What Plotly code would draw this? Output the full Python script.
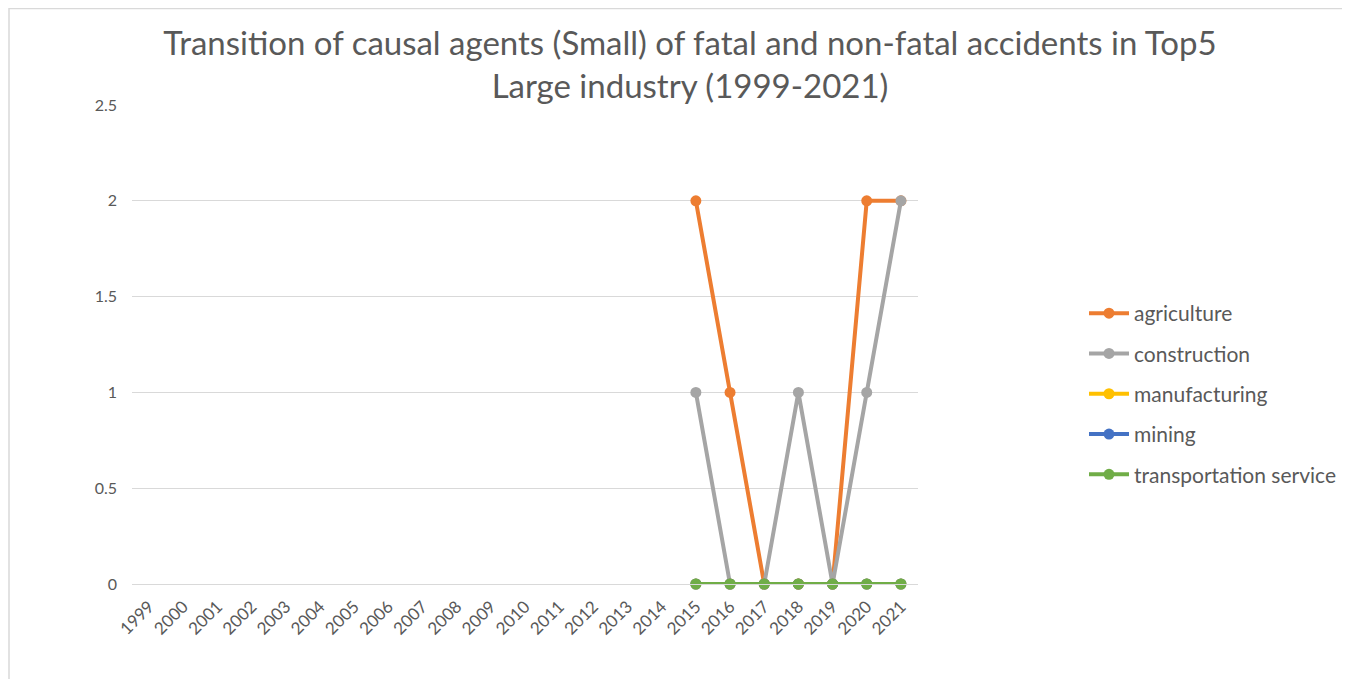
import plotly.graph_objects as go

years = [str(y) for y in range(1999, 2022)]
N = None
agriculture = [N]*16 + [2, 1, 0, 0, 0, 2, 2]
construction = [N]*16 + [1, 0, 0, 1, 0, 1, 2]
manufacturing = [N]*16 + [0, 0, 0, 0, 0, 0, 0]
mining = [N]*16 + [0, 0, 0, 0, 0, 0, 0]
transportation = [N]*16 + [0, 0, 0, 0, 0, 0, 0]

series = [
    ("agriculture", agriculture, "#ED7D31"),
    ("construction", construction, "#A5A5A5"),
    ("manufacturing", manufacturing, "#FFC000"),
    ("mining", mining, "#4472C4"),
    ("transportation service", transportation, "#70AD47"),
]

FONT = "Lato"
TXT = "#595959"

fig = go.Figure()
for name, vals, col in series:
    fig.add_trace(go.Scatter(
        x=years, y=vals, name=name, mode="lines+markers",
        line=dict(color=col, width=4),
        marker=dict(color=col, size=11),
        cliponaxis=False, legendgroup=name,
    ))

OFF = 8  # page body margin
W, H = 1350 - OFF, 679 - OFF
L, R, T, B = 132 - OFF, 918 - OFF, 105 - OFF, 584 - OFF

def px(X):
    return (X - OFF - L) / (R - L)

def py(Y):
    return (B - (Y - OFF)) / (B - T)

fig.update_layout(
    width=W, height=H,
    paper_bgcolor="white", plot_bgcolor="white",
    margin=dict(l=L, r=W - R, t=T, b=H - B, autoexpand=False),
    font=dict(family=FONT, color=TXT),
    title=dict(
        text="Transition of causal agents (Small) of fatal and non-fatal accidents in Top5<br>Large industry (1999-2021)",
        x=(690 - OFF) / W, xanchor="center", xref="container",
        y=1 - (55 - OFF) / H, yanchor="middle", yref="container",
        font=dict(family=FONT, size=33, color=TXT),
    ),
    xaxis=dict(
        type="category", range=[-0.5, 22.5], tickangle=-45,
        showgrid=False, zeroline=False, showline=True, linecolor="#D9D9D9",
        linewidth=1, ticks="", tickfont=dict(size=17, color=TXT),
        ticklabelstandoff=5, fixedrange=True,
    ),
    yaxis=dict(
        range=[0, 2.5], tickvals=[0, 0.5, 1, 1.5, 2, 2.5],
        ticktext=["0", "0.5", "1", "1.5", "2", "2.5"],
        showgrid=True, gridcolor="#D9D9D9", gridwidth=1,
        zeroline=False, showline=False, ticks="",
        tickfont=dict(size=16, color=TXT), ticklabelstandoff=14,
    ),
    legend=dict(
        x=px(1084), xanchor="left", y=py(293), yanchor="top",
        font=dict(family=FONT, size=21, color=TXT),
        traceorder="grouped", tracegroupgap=10, itemwidth=40,
        bgcolor="rgba(0,0,0,0)",
    ),
    showlegend=True,
    shapes=[dict(
        type="rect", xref="paper", yref="paper",
        x0=px(9), x1=px(1362), y0=py(692), y1=py(8.5),
        line=dict(color="#D9D9D9", width=1.5), fillcolor="rgba(0,0,0,0)",
        layer="below",
    )],
)

fig.write_html("out.html")
